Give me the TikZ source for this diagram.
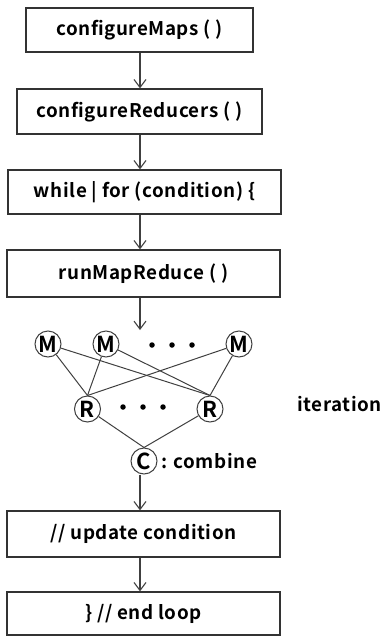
\documentclass[tikz,border=0pt]{standalone}
\usepackage{fontspec}
\setmainfont{Noto Sans CJK KR}[BoldFont={* Bold}, LetterSpace=3]
\usetikzlibrary{arrows.meta}

\tikzset{
  stepbox/.style={draw=black!80, line width=1.2pt, minimum width=273pt,
                  minimum height=45pt, inner sep=0pt, font=\fontsize{18.8}{22}\selectfont\bfseries},
  task/.style={circle, draw=black!75, line width=1pt, minimum size=26pt,
               inner sep=0pt, font=\fontsize{22}{22}\selectfont\bfseries},
  flow/.style={draw=black!75, line width=1.1pt, -{Straight Barb[length=8pt, width=12pt]}},
  link/.style={draw=black!75, line width=1pt},
  dot/.style={circle, fill=black, inner sep=0pt, minimum width=4.5pt, minimum height=5.5pt}
}

\begin{document}
\begin{tikzpicture}[x=1pt, y=-1pt]
    \useasboundingbox (0, 0) rectangle (384, 637);

    \node[stepbox, minimum width=227pt, minimum height=44pt] (maps) at (139.5, 30) {configureMaps ( )};
    \node[stepbox, minimum width=245pt] (reducers) at (139.5, 111.5) {configureReducers ( )};
    \node[stepbox, minimum height=44pt] (loop) at (144.5, 192) {while | for (condition) \{};
    \node[stepbox, minimum height=47pt] (run) at (143.5, 273.5) {runMapReduce ( )};
    \node[stepbox, minimum height=46pt] (update) at (143.5, 534) {// update condition};
    \node[stepbox, minimum height=43pt] (endloop) at (143.5, 613.5) {\} // end loop};

    \node[task] (m1) at (48, 344) {M};
    \node[task] (m2) at (106, 344) {M};
    \node[task] (m3) at (239, 344) {M};
    \node[task] (r1) at (87.5, 409) {R};
    \node[task] (r2) at (210, 409) {R};
    \node[task] (c) at (144, 461) {C};
    \node[anchor=west, font=\fontsize{18.8}{22}\selectfont\bfseries] (comb) at (c.east) {: combine};
    \node[anchor=east, inner sep=0pt, font=\fontsize{18.8}{22}\selectfont\bfseries] (iter) at (382, 404) {iteration};

    \foreach \x in {152, 172, 192} \node[dot] at (\x, 345) {};
    \foreach \x in {123, 143, 163} \node[dot] at (\x, 407) {};

    \coordinate (mtop) at (140, 330);
    \draw[flow] (maps.south -| 140, 0) -- (reducers.north -| 140, 0);
    \draw[flow] (reducers.south -| 140, 0) -- (loop.north -| 140, 0);
    \draw[flow] (loop.south -| 140, 0) -- (run.north -| 140, 0);
    \draw[flow] (run.south -| 140, 0) -- (mtop);
    \draw[flow] (c.south -| 140, 0) -- (update.north -| 140, 0);
    \draw[flow] (update.south -| 140, 0) -- (endloop.north -| 140, 0);

    \foreach \m in {m1, m2, m3} {
      \draw[link] (\m) -- (r1.north);
      \draw[link] (\m) -- (r2.north);
    }
    \draw[link] (r1) -- (c.north);
    \draw[link] (r2) -- (c.north);
\end{tikzpicture}
\end{document}
